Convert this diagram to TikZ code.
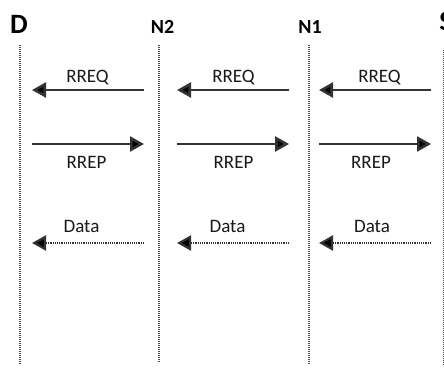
\documentclass[tikz,border=0pt]{standalone}
\usepackage{fontspec}
\setmainfont{Carlito}
\usetikzlibrary{arrows.meta}

\tikzset{
  lifeline/.style={draw=black!70, line width=2pt, dash pattern=on 1pt off 1pt},
  msg/.style={draw=black!80, line width=2.6pt, -{Triangle[length=14pt,width=15pt,fill=black]}},
  datamsg/.style={msg, line width=2.2pt, dash pattern=on 1.2pt off 1pt},
  msglabel/.style={anchor=base, text=black!90, font=\fontsize{19}{19}\selectfont},
  hdrbig/.style={anchor=base, font=\bfseries\fontsize{28}{28}\selectfont},
  hdrsmall/.style={anchor=base, font=\bfseries\fontsize{20}{20}\selectfont}
}

\begin{document}
\begin{tikzpicture}[x=1pt, y=-1pt]
    \useasboundingbox (0,0) rectangle (444,367);

    % Nodi
    \node[hdrbig] (D) at (19,33) {D};
    \node[hdrsmall] (N2) at (162.5,33) {N2};
    \node[hdrsmall] (N1) at (310,33) {N1};
    \node[hdrbig] (S) at (446,30) {S};

    % Linee verticali
    \foreach \n/\x/\ya/\yb in {D/20/45/365, N2/159/45/362, N1/309/45/365, S/444/50/365}{
        \coordinate (\n top) at (\x,\ya);
        \coordinate (\n bot) at (\x,\yb);
        \draw[lifeline] (\n top) -- (\n bot);
    }

    % Messaggi tra nodi vicini
    \foreach \i/\xl/\xr/\lq/\lp/\ld in {1/32/144/87.5/86.5/81.5, 2/177/289/233.5/233.5/227.5, 3/319/431/379.5/371/372}{
        % RREQ verso sinistra
        \coordinate (req\i a) at (\xr,90);
        \coordinate (req\i b) at (\xl,90);
        \draw[msg] (req\i a) -- (req\i b);
        \node[msglabel] (lreq\i) at (\lq,82) {RREQ};
        % RREP verso destra
        \coordinate (rep\i a) at (\xl,144);
        \coordinate (rep\i b) at (\xr,144);
        \draw[msg] (rep\i a) -- (rep\i b);
        \node[msglabel] (lrep\i) at (\lp,168) {RREP};
        % Data verso sinistra
        \coordinate (dat\i a) at (\xr,243);
        \coordinate (dat\i b) at (\xl,243);
        \draw[datamsg] (dat\i a) -- (dat\i b);
        \node[msglabel] (ldat\i) at (\ld,232) {Data};
    }
\end{tikzpicture}
\end{document}
